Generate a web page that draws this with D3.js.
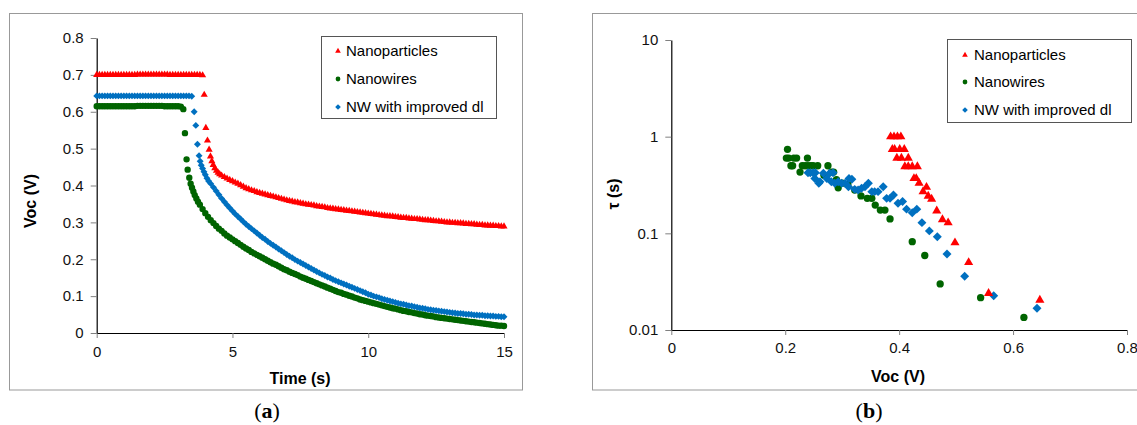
<!DOCTYPE html>
<html>
<head>
<meta charset="utf-8">
<script src="https://cdn.jsdelivr.net/npm/d3@7/dist/d3.min.js"></script>
<style>
  body { margin: 0; background: #fff; }
  svg { display: block; font-family: "Liberation Sans", Arial, sans-serif; }
</style>
</head>
<body>
<svg id="fig" width="1137" height="425"></svg>
<script>
// series names (legend order)
const seriesNames = ["Nanoparticles", "Nanowires", "NW with improved dl"];

// (a) Voc decay: [time (s), Voc (V)]
const npDecay = [
  [0,0.70],[0.1,0.70],[0.2,0.70],[0.3,0.70],[0.4,0.70],[0.5,0.70],[0.6,0.70],[0.7,0.70],[0.8,0.70],[0.9,0.70],
  [1.0,0.70],[1.1,0.70],[1.2,0.70],[1.3,0.70],[1.4,0.70],[1.5,0.701],[1.6,0.701],[1.7,0.701],[1.8,0.701],[1.9,0.701],
  [2.0,0.701],[2.1,0.701],[2.2,0.701],[2.3,0.701],[2.4,0.701],[2.5,0.701],[2.6,0.701],[2.7,0.70],[2.8,0.70],[2.9,0.70],
  [3.0,0.70],[3.1,0.70],[3.2,0.70],[3.3,0.70],[3.4,0.70],[3.5,0.70],[3.6,0.70],[3.7,0.70],[3.8,0.70],[3.9,0.699],
  [3.96,0.646],[4.02,0.556],[4.08,0.522],[4.14,0.497],[4.19,0.479],[4.24,0.466],[4.29,0.456],[4.35,0.447],[4.41,0.440],
  [4.47,0.435],[4.53,0.431],[4.6,0.427],[4.7,0.423],[4.8,0.419],[4.9,0.415],
  [5.0,0.412],[5.1,0.408],[5.2,0.405],[5.3,0.401],[5.4,0.397],[5.5,0.393],[5.6,0.390],[5.7,0.387],[5.8,0.385],[5.9,0.382],
  [6.0,0.380],[6.1,0.378],[6.2,0.376],[6.3,0.374],[6.4,0.372],[6.5,0.370],[6.6,0.368],[6.7,0.366],[6.8,0.364],[6.9,0.362],
  [7.0,0.360],[7.1,0.358],[7.2,0.357],[7.3,0.355],[7.4,0.354],[7.5,0.352],[7.6,0.351],[7.7,0.349],[7.8,0.348],[7.9,0.347],
  [8.0,0.346],[8.1,0.344],[8.2,0.343],[8.3,0.342],[8.4,0.341],[8.5,0.339],[8.6,0.338],[8.7,0.337],[8.8,0.336],[8.9,0.335],
  [9.0,0.334],[9.1,0.333],[9.2,0.332],[9.3,0.331],[9.4,0.330],[9.5,0.329],[9.6,0.328],[9.7,0.327],[9.8,0.326],[9.9,0.325],
  [10.0,0.324],[10.1,0.323],[10.2,0.322],[10.3,0.321],[10.4,0.320],[10.5,0.319],[10.6,0.318],[10.7,0.317],[10.8,0.317],[10.9,0.316],
  [11.0,0.315],[11.1,0.314],[11.2,0.313],[11.3,0.312],[11.4,0.312],[11.5,0.311],[11.6,0.310],[11.7,0.309],[11.8,0.309],[11.9,0.308],
  [12.0,0.307],[12.1,0.306],[12.2,0.306],[12.3,0.305],[12.4,0.304],[12.5,0.303],[12.6,0.303],[12.7,0.302],[12.8,0.301],[12.9,0.300],
  [13.0,0.300],[13.1,0.299],[13.2,0.299],[13.3,0.298],[13.4,0.298],[13.5,0.297],[13.6,0.296],[13.7,0.296],[13.8,0.295],[13.9,0.295],
  [14.0,0.294],[14.1,0.293],[14.2,0.293],[14.3,0.292],[14.4,0.292],[14.5,0.291],[14.6,0.291],[14.7,0.290],[14.8,0.290],[14.9,0.289],
  [15.0,0.289]
];
const nwDecay = [
  [0,0.615],[0.1,0.615],[0.2,0.615],[0.3,0.615],[0.4,0.615],[0.5,0.615],[0.6,0.615],[0.7,0.615],[0.8,0.615],[0.9,0.615],
  [1.0,0.615],[1.1,0.615],[1.2,0.615],[1.3,0.615],[1.4,0.615],[1.5,0.616],[1.6,0.616],[1.7,0.616],[1.8,0.616],[1.9,0.616],
  [2.0,0.616],[2.1,0.616],[2.2,0.616],[2.3,0.616],[2.4,0.616],[2.5,0.615],[2.6,0.615],[2.7,0.615],[2.8,0.615],[2.9,0.615],
  [3.0,0.615],[3.1,0.614],
  [3.19,0.607],[3.25,0.542],[3.31,0.471],[3.35,0.443],[3.41,0.421],[3.46,0.405],[3.51,0.394],[3.56,0.384],[3.61,0.374],
  [3.67,0.365],[3.73,0.356],[3.8,0.348],[3.9,0.336],[4.0,0.325],[4.1,0.315],[4.2,0.306],[4.3,0.298],[4.4,0.290],[4.5,0.283],
  [4.6,0.277],[4.7,0.270],[4.8,0.264],[4.9,0.259],
  [5.0,0.254],[5.1,0.249],[5.2,0.244],[5.3,0.239],[5.4,0.234],[5.5,0.229],[5.6,0.225],[5.7,0.220],[5.8,0.216],[5.9,0.212],
  [6.0,0.208],[6.1,0.204],[6.2,0.200],[6.3,0.196],[6.4,0.192],[6.5,0.188],[6.6,0.185],[6.7,0.181],[6.8,0.177],[6.9,0.173],
  [7.0,0.170],[7.1,0.166],[7.2,0.163],[7.3,0.160],[7.4,0.157],[7.5,0.153],[7.6,0.150],[7.7,0.147],[7.8,0.144],[7.9,0.141],
  [8.0,0.138],[8.1,0.135],[8.2,0.132],[8.3,0.129],[8.4,0.126],[8.5,0.123],[8.6,0.120],[8.7,0.117],[8.8,0.114],[8.9,0.111],
  [9.0,0.109],[9.1,0.106],[9.2,0.104],[9.3,0.101],[9.4,0.099],[9.5,0.096],[9.6,0.094],[9.7,0.091],[9.8,0.089],[9.9,0.087],
  [10.0,0.085],[10.1,0.083],[10.2,0.081],[10.3,0.079],[10.4,0.077],[10.5,0.075],[10.6,0.073],[10.7,0.071],[10.8,0.069],[10.9,0.067],
  [11.0,0.066],[11.1,0.064],[11.2,0.062],[11.3,0.060],[11.4,0.059],[11.5,0.057],[11.6,0.056],[11.7,0.054],[11.8,0.053],[11.9,0.051],
  [12.0,0.050],[12.1,0.048],[12.2,0.047],[12.3,0.046],[12.4,0.045],[12.5,0.043],[12.6,0.042],[12.7,0.041],[12.8,0.040],[12.9,0.039],
  [13.0,0.038],[13.1,0.037],[13.2,0.036],[13.3,0.035],[13.4,0.034],[13.5,0.033],[13.6,0.032],[13.7,0.031],[13.8,0.030],[13.9,0.029],
  [14.0,0.028],[14.1,0.027],[14.2,0.026],[14.3,0.025],[14.4,0.024],[14.5,0.023],[14.6,0.022],[14.7,0.021],[14.8,0.020],[14.9,0.020],
  [15.0,0.019]
];
const nwiDecay = [
  [0,0.643],[0.1,0.643],[0.2,0.643],[0.3,0.643],[0.4,0.643],[0.5,0.643],[0.6,0.643],[0.7,0.643],[0.8,0.643],[0.9,0.643],
  [1.0,0.643],[1.1,0.643],[1.2,0.643],[1.3,0.643],[1.4,0.643],[1.5,0.643],[1.6,0.643],[1.7,0.643],[1.8,0.643],[1.9,0.643],
  [2.0,0.643],[2.1,0.643],[2.2,0.643],[2.3,0.643],[2.4,0.643],[2.5,0.643],[2.6,0.643],[2.7,0.643],[2.8,0.643],[2.9,0.643],
  [3.0,0.643],[3.1,0.643],[3.2,0.643],[3.3,0.643],[3.4,0.643],[3.5,0.642],
  [3.59,0.600],[3.65,0.563],[3.71,0.512],[3.77,0.481],[3.81,0.466],[3.85,0.455],[3.9,0.446],[3.95,0.437],[4.0,0.429],
  [4.06,0.420],[4.12,0.412],[4.2,0.405],[4.3,0.395],[4.4,0.385],[4.5,0.375],[4.6,0.365],[4.7,0.356],[4.8,0.347],[4.9,0.339],
  [5.0,0.331],[5.1,0.323],[5.2,0.316],[5.3,0.309],[5.4,0.302],[5.5,0.295],[5.6,0.289],[5.7,0.283],[5.8,0.277],[5.9,0.271],
  [6.0,0.265],[6.1,0.259],[6.2,0.254],[6.3,0.248],[6.4,0.243],[6.5,0.238],[6.6,0.233],[6.7,0.228],[6.8,0.223],[6.9,0.218],
  [7.0,0.213],[7.1,0.208],[7.2,0.204],[7.3,0.199],[7.4,0.195],[7.5,0.191],[7.6,0.187],[7.7,0.183],[7.8,0.179],[7.9,0.175],
  [8.0,0.171],[8.1,0.167],[8.2,0.163],[8.3,0.159],[8.4,0.156],[8.5,0.152],[8.6,0.149],[8.7,0.145],[8.8,0.142],[8.9,0.139],
  [9.0,0.136],[9.1,0.133],[9.2,0.130],[9.3,0.127],[9.4,0.124],[9.5,0.121],[9.6,0.118],[9.7,0.115],[9.8,0.112],[9.9,0.109],
  [10.0,0.105],[10.1,0.103],[10.2,0.100],[10.3,0.098],[10.4,0.096],[10.5,0.093],[10.6,0.091],[10.7,0.089],[10.8,0.087],[10.9,0.085],
  [11.0,0.083],[11.1,0.081],[11.2,0.079],[11.3,0.078],[11.4,0.076],[11.5,0.074],[11.6,0.073],[11.7,0.071],[11.8,0.070],[11.9,0.068],
  [12.0,0.067],[12.1,0.066],[12.2,0.064],[12.3,0.063],[12.4,0.062],[12.5,0.061],[12.6,0.060],[12.7,0.059],[12.8,0.058],[12.9,0.057],
  [13.0,0.056],[13.1,0.055],[13.2,0.054],[13.3,0.053],[13.4,0.053],[13.5,0.052],[13.6,0.051],[13.7,0.051],[13.8,0.050],[13.9,0.049],
  [14.0,0.049],[14.1,0.048],[14.2,0.048],[14.3,0.047],[14.4,0.047],[14.5,0.046],[14.6,0.046],[14.7,0.045],[14.8,0.045],[14.9,0.044],
  [15.0,0.044]
];

// (b) lifetime: [Voc (V), tau (s)]
const npTau = [
  [0.385,1.0],[0.391,1.0],[0.397,1.0],[0.403,1.0],
  [0.388,0.74],[0.392,0.74],[0.401,0.74],[0.409,0.74],
  [0.396,0.60],[0.404,0.60],[0.416,0.60],
  [0.410,0.49],[0.416,0.49],[0.423,0.49],[0.432,0.49],
  [0.426,0.37],[0.430,0.37],[0.435,0.33],
  [0.442,0.27],[0.448,0.30],[0.451,0.243],[0.457,0.226],
  [0.466,0.171],[0.476,0.139],[0.486,0.129],
  [0.498,0.080],[0.522,0.050],[0.557,0.024],[0.647,0.0204]
];
const nwTau = [
  [0.204,0.74],
  [0.202,0.60],[0.206,0.60],[0.215,0.60],[0.220,0.60],[0.239,0.60],
  [0.210,0.50],[0.213,0.50],[0.230,0.50],[0.235,0.50],[0.240,0.50],[0.245,0.50],[0.249,0.50],[0.257,0.50],[0.275,0.50],
  [0.226,0.43],[0.268,0.40],[0.281,0.43],[0.285,0.43],[0.290,0.36],[0.300,0.33],[0.310,0.32],
  [0.293,0.296],[0.322,0.28],[0.333,0.244],[0.344,0.23],[0.352,0.23],[0.358,0.196],[0.367,0.174],[0.375,0.174],[0.384,0.141],
  [0.423,0.082],[0.445,0.059],[0.472,0.030],[0.543,0.0216],[0.619,0.0135]
];
const nwiTau = [
  [0.240,0.424],[0.244,0.424],[0.249,0.424],[0.253,0.424],
  [0.252,0.37],[0.259,0.329],[0.261,0.342],[0.267,0.418],[0.273,0.37],[0.278,0.418],[0.284,0.424],
  [0.281,0.342],[0.287,0.329],[0.293,0.342],[0.299,0.329],[0.305,0.329],[0.311,0.304],[0.312,0.37],[0.317,0.362],
  [0.322,0.285],[0.328,0.281],[0.334,0.292],[0.340,0.304],[0.346,0.329],[0.352,0.27],[0.357,0.27],[0.363,0.27],
  [0.372,0.304],[0.378,0.23],[0.384,0.23],[0.390,0.249],[0.398,0.205],[0.406,0.213],[0.413,0.178],[0.423,0.163],
  [0.431,0.178],[0.440,0.129],[0.453,0.106],[0.467,0.092],[0.484,0.061],[0.515,0.036],[0.566,0.0226],[0.642,0.0168]
];

// tick labels
const timeTicks = [0, 5, 10, 15];
const vocTicksA = [0, 0.1, 0.2, 0.3, 0.4, 0.5, 0.6, 0.7, 0.8];
const vocTicksB = [0, 0.2, 0.4, 0.6, 0.8];
const tauTicks = [0.01, 0.1, 1, 10];

const colors = ["#ff0000", "#006400", "#0070c0"];
const shapes = [d3.symbolTriangle, d3.symbolCircle, d3.symbolSquare];

const svg = d3.select("#fig");

// marker helper: diamonds are squares turned 45deg
function marker(sel, i, size) {
  sel.append("path")
    .attr("d", d3.symbol().type(shapes[i]).size(size))
    .attr("fill", colors[i])
    .attr("transform", i === 2 ? "rotate(45)" : null);
}

function drawPoints(g, data, i, x, y, size) {
  g.append("g").selectAll("g")
    .data(data)
    .join("g")
    .attr("transform", d => `translate(${x(d[0])},${y(d[1])})`)
    .each(function() { marker(d3.select(this), i, size); });
}

function drawLegend(g, x0, y0, w, h, rows, mx, tx) {
  g.append("rect")
    .attr("x", x0).attr("y", y0).attr("width", w).attr("height", h)
    .attr("fill", "#fff").attr("stroke", "#555").attr("stroke-width", 1);
  seriesNames.forEach((name, i) => {
    const row = g.append("g").attr("transform", `translate(${mx},${rows[i]})`);
    marker(row, i, i === 2 ? 16 : (i === 0 ? 14 : 18));
    g.append("text")
      .attr("x", tx).attr("y", rows[i]).attr("dy", "0.35em")
      .attr("font-size", 15).attr("fill", "#000")
      .text(name);
  });
}

function styleAxis(g) {
  g.select(".domain").attr("stroke", "#000").attr("stroke-width", 1.2);
  g.selectAll(".tick line").attr("stroke", "#808080");
  g.selectAll(".tick text").attr("font-size", 15).attr("fill", "#111")
    .attr("font-family", "'Liberation Sans', Arial, sans-serif");
}

// ---------- panel (a) ----------
svg.append("rect")
  .attr("x", 9.5).attr("y", 13.5).attr("width", 513).attr("height", 376.5)
  .attr("fill", "none").attr("stroke", "#999");

const xA = d3.scaleLinear().domain([0, 15]).range([96.7, 504]);
const yA = d3.scaleLinear().domain([0, 0.8]).range([333, 38]);

svg.append("g")
  .attr("transform", "translate(0,333)")
  .call(d3.axisBottom(xA).tickValues(timeTicks).tickSizeInner(5).tickSizeOuter(0).tickPadding(8))
  .call(styleAxis);

svg.append("g")
  .attr("transform", "translate(96.7,0)")
  .call(d3.axisLeft(yA).tickValues(vocTicksA).tickFormat(d3.format(".1~f")).tickSizeInner(6).tickSizeOuter(0).tickPadding(7))
  .call(styleAxis);

const plotA = svg.append("g");
drawPoints(plotA, npDecay, 0, xA, yA, 22);
drawPoints(plotA, nwDecay, 1, xA, yA, 32);
drawPoints(plotA, nwiDecay, 2, xA, yA, 24);

svg.append("text")
  .attr("transform", "translate(36,201) rotate(-90)")
  .attr("text-anchor", "middle").attr("font-size", 16).attr("font-weight", "bold")
  .text("Voc (V)");
svg.append("text")
  .attr("x", 300).attr("y", 384)
  .attr("text-anchor", "middle").attr("font-size", 16).attr("font-weight", "bold")
  .text("Time (s)");

drawLegend(svg.append("g"), 321.5, 36.5, 175, 82, [51, 79, 107], 338, 346);

// ---------- panel (b) ----------
svg.append("rect")
  .attr("x", 592.5).attr("y", 13.5).attr("width", 560).attr("height", 376.5)
  .attr("fill", "none").attr("stroke", "#999");

const xB = d3.scaleLinear().domain([0, 0.8]).range([671.3, 1127]);
const yB = d3.scaleLog().domain([0.01, 10]).range([330, 40]);

svg.append("g")
  .attr("transform", "translate(0,330)")
  .call(d3.axisBottom(xB).tickValues(vocTicksB).tickFormat(d3.format(".1~f")).tickSizeInner(5).tickSizeOuter(0).tickPadding(7))
  .call(styleAxis);

svg.append("g")
  .attr("transform", "translate(671.3,0)")
  .call(d3.axisLeft(yB).tickValues(tauTicks).tickFormat(d => String(d)).tickSizeInner(6).tickSizeOuter(0).tickPadding(7))
  .call(styleAxis);

const plotB = svg.append("g");
drawPoints(plotB, nwTau, 1, xB, yB, 42);
drawPoints(plotB, nwiTau, 2, xB, yB, 40);
drawPoints(plotB, npTau, 0, xB, yB, 36);

svg.append("text")
  .attr("transform", "translate(619,194) rotate(-90)")
  .attr("text-anchor", "middle").attr("font-size", 16).attr("font-weight", "bold")
  .text("τ (s)");
svg.append("text")
  .attr("x", 898).attr("y", 382)
  .attr("text-anchor", "middle").attr("font-size", 16).attr("font-weight", "bold")
  .text("Voc (V)");

drawLegend(svg.append("g"), 947.5, 39.5, 184, 83, [55, 82, 110], 965, 974);

// ---------- captions ----------
function caption(x, letter) {
  const t = svg.append("text")
    .attr("x", x).attr("y", 418)
    .attr("text-anchor", "middle")
    .attr("font-family", "'Liberation Serif', 'DejaVu Serif', serif")
    .attr("font-size", 22).attr("fill", "#000");
  t.append("tspan").text("(");
  t.append("tspan").attr("font-weight", "bold").text(letter);
  t.append("tspan").text(")");
}
caption(267, "a");
caption(869, "b");
</script>
</body>
</html>
